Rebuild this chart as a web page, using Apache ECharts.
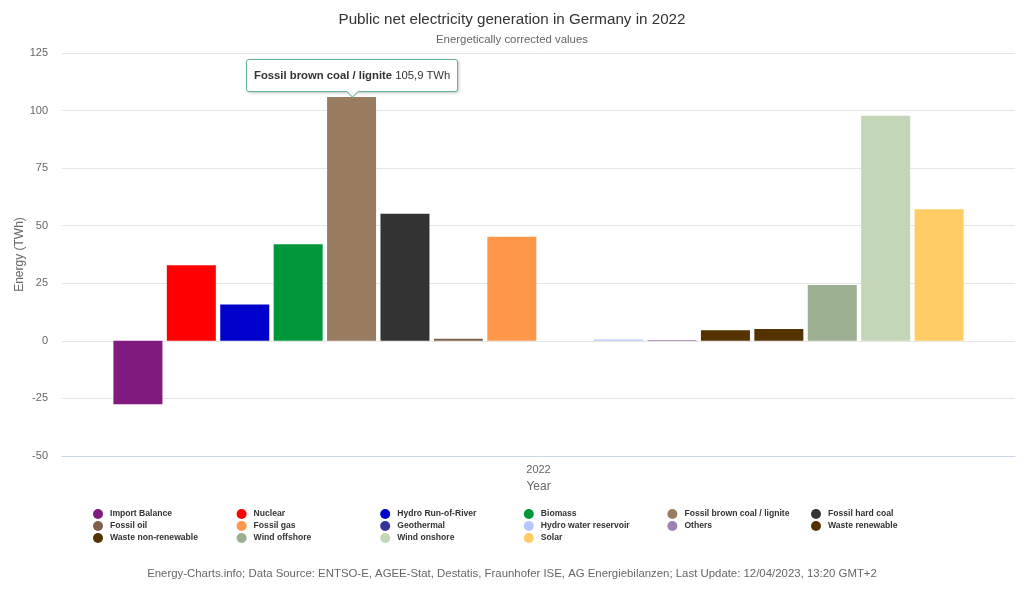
<!DOCTYPE html>
<html>
<head>
<meta charset="utf-8">
<script src="https://cdn.jsdelivr.net/npm/echarts@6/dist/echarts.min.js"></script>
<style>
html,body{margin:0;padding:0;background:#fff;}
#chart{width:1024px;height:590px;}
</style>
</head>
<body>
<div id="chart"></div>
<script>
var categories = ['2022'];
var seriesNames = ['Import Balance','Nuclear','Hydro Run-of-River','Biomass','Fossil brown coal / lignite','Fossil hard coal','Fossil oil','Fossil gas','Geothermal','Hydro water reservoir','Others','Waste renewable','Waste non-renewable','Wind offshore','Wind onshore','Solar'];
var values = [-27.5, 32.8, 15.8, 41.9, 105.9, 55.2, 0.9, 45.2, 0.1, 0.6, 0.4, 4.6, 5.1, 24.3, 97.8, 57.2];
var colors = ['#811a7e','#ff0000','#0000cc','#00973a','#9a7c60','#333333','#80604a','#ff984a','#333399','#b4c8ff','#9e82b6','#553300','#553300','#9caf90','#c3d6b8','#ffcc66'];
var yTicks = [-50, -25, 0, 25, 50, 75, 100, 125];

var FONT = '"Liberation Sans", Arial, sans-serif';
var chart = echarts.init(document.getElementById('chart'));
var series = seriesNames.map(function(n, i){
  return {
    name: n, type: 'bar', data: [values[i]],
    barWidth: 49, barGap: '9%',
    itemStyle: {color: colors[i]},
    emphasis: {disabled: true}
  };
});
chart.setOption({
  animation: false,
  textStyle: {fontFamily: FONT},
  title: [{
    text: 'Public net electricity generation in Germany in 2022',
    left: 'center', top: 7,
    textStyle: {fontSize: 15.2, fontWeight: 'normal', color: '#333', fontFamily: FONT}
  },{
    text: 'Energetically corrected values',
    left: 'center', top: 29,
    textStyle: {fontSize: 11.4, fontWeight: 'normal', color: '#666', fontFamily: FONT}
  },{
    text: 'Energy-Charts.info; Data Source: ENTSO-E, AGEE-Stat, Destatis, Fraunhofer ISE, AG Energiebilanzen; Last Update: 12/04/2023, 13:20 GMT+2',
    left: 'center', top: 563,
    textStyle: {fontSize: 11.4, fontWeight: 'normal', color: '#666', fontFamily: FONT}
  }],
  grid: {left: 62, right: 9, top: 53, bottom: 134, outerBoundsMode: 'none'},
  tooltip: {
    trigger: 'item',
    alwaysShowContent: true,
    backgroundColor: '#fff',
    borderColor: '#5fb59a',
    borderWidth: 1,
    padding: [7, 7],
    extraCssText: 'border-radius:3px;box-shadow:1px 1px 3px rgba(0,0,0,0.25);overflow:visible;',
    textStyle: {fontSize: 11.3, color: '#333', fontFamily: FONT},
    position: function(point, params, dom, rect, size){
      var w = size.contentSize[0], h = size.contentSize[1];
      return [rect.x + rect.width/2 - w/2, rect.y - h - 5];
    },
    formatter: function(p){
      return '<b>' + p.seriesName + '</b> ' + String(p.value).replace('.', ',') + ' TWh' +
        '<div style="position:absolute;left:50%;bottom:-5px;width:8px;height:8px;margin-left:-4px;background:#fff;border-right:1px solid #5fb59a;border-bottom:1px solid #5fb59a;transform:rotate(45deg);"></div>';
    }
  },
  legend: {
    left: 88, top: 504, width: 875,
    icon: 'circle', itemWidth: 10, itemHeight: 10, itemGap: 2,
    textStyle: {fontSize: 8.6, fontWeight: 'bold', color: '#333', width: 124.6, lineHeight: 9.5, padding: [0,0,0,2], fontFamily: FONT},
    data: seriesNames
  },
  xAxis: {
    type: 'category', data: categories,
    name: 'Year', nameLocation: 'middle', nameGap: 25,
    nameTextStyle: {fontSize: 12, color: '#666'},
    axisLine: {onZero: false, lineStyle: {color: '#ccd6eb'}},
    axisTick: {show: false},
    axisLabel: {fontSize: 11, color: '#666', margin: 8}
  },
  yAxis: {
    type: 'value', min: -50, max: 125, interval: 25,
    name: 'Energy (TWh)', nameLocation: 'middle', nameGap: 36, nameMoveOverlap: false,
    nameTextStyle: {fontSize: 12, color: '#666'},
    axisLine: {show: false}, axisTick: {show: false},
    axisLabel: {fontSize: 11, color: '#666', margin: 14,
      formatter: function(v){ return yTicks.indexOf(v) >= 0 ? String(v) : ''; }},
    splitLine: {lineStyle: {color: '#e6e6e6'}}
  },
  series: series
});
chart.dispatchAction({type: 'showTip', seriesIndex: 4, dataIndex: 0});
</script>
</body>
</html>
